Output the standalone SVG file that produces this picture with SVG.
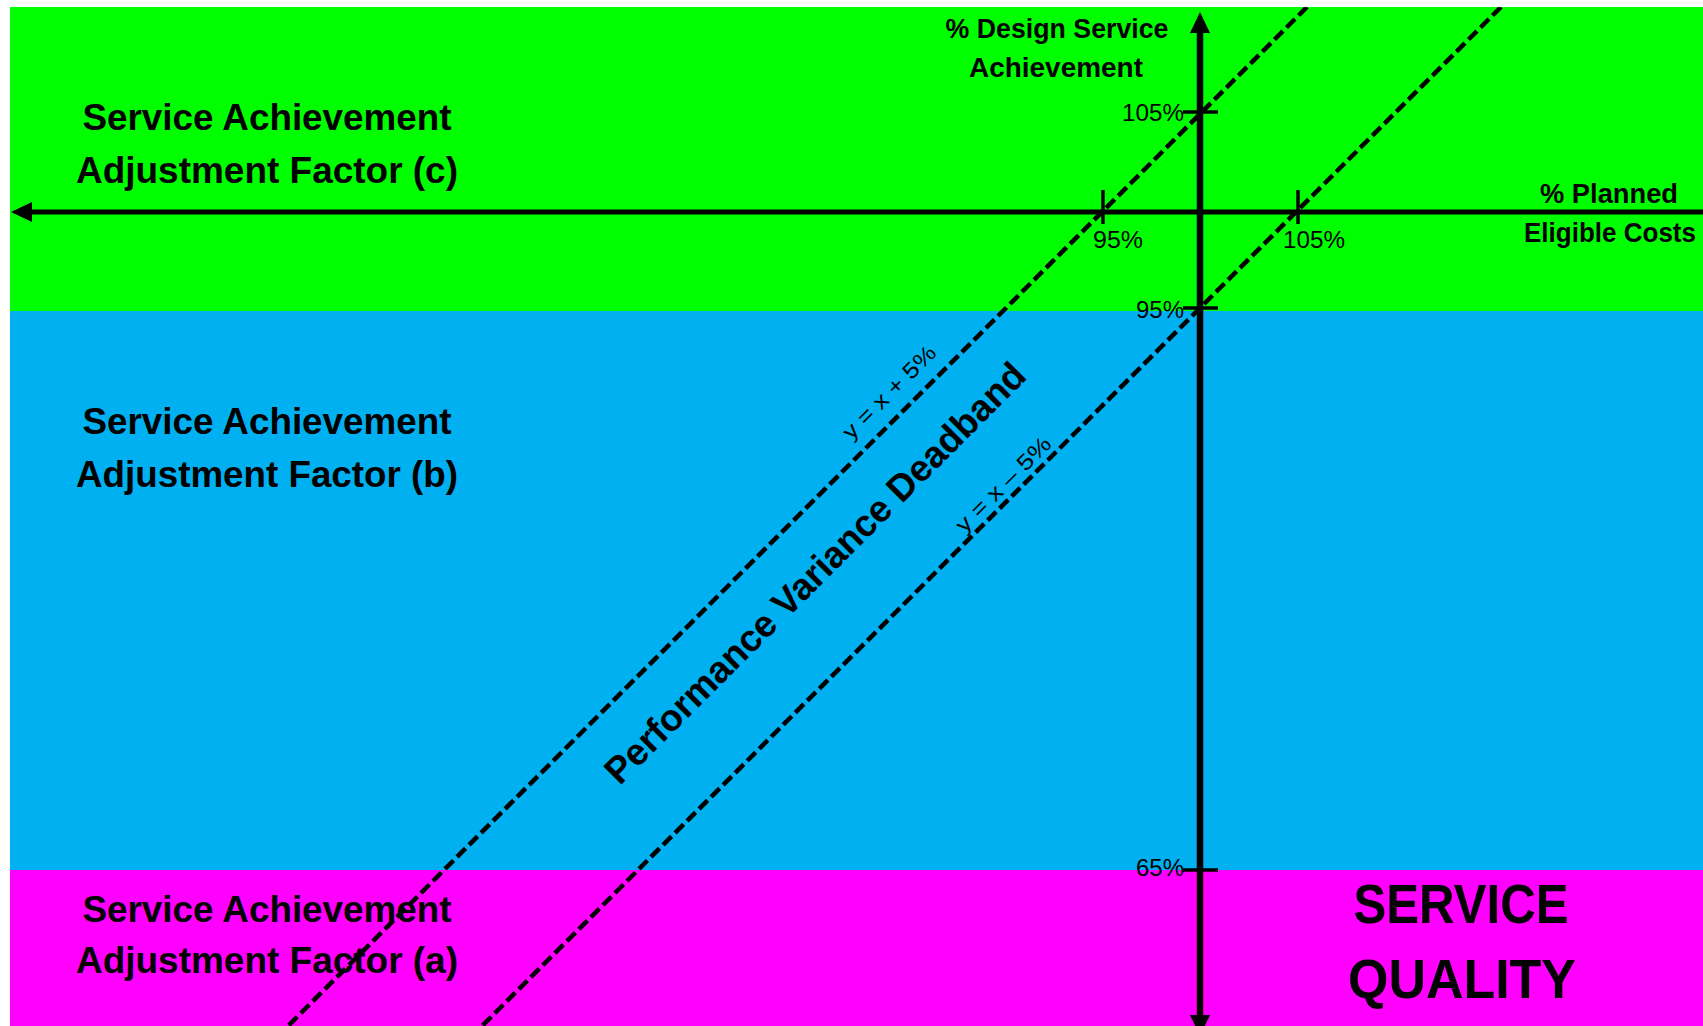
<svg xmlns="http://www.w3.org/2000/svg" width="1703" height="1026" viewBox="0 0 1703 1026">
  <style>
    .lbl { font-family: "Liberation Sans", Arial, sans-serif; font-weight: bold; font-size: 36px; fill: #000; text-anchor: middle; }
    .ax { font-family: "Liberation Sans", Arial, sans-serif; font-weight: bold; font-size: 27px; fill: #000; text-anchor: middle; }
    .tick { font-family: "Liberation Sans", Arial, sans-serif; font-size: 24.5px; fill: #000; }
    .big { font-family: "Liberation Sans", Arial, sans-serif; font-weight: bold; font-size: 56px; fill: #000; text-anchor: middle; }
    .rot { font-family: "Liberation Sans", Arial, sans-serif; font-weight: bold; font-size: 37.5px; fill: #000; text-anchor: middle; }
    .eq { font-family: "Liberation Sans", Arial, sans-serif; font-size: 22px; fill: #000; text-anchor: middle; }
    .axis { stroke: #000; fill: none; }
    .tk { stroke: #000; stroke-width: 3.5; }
    .dash { stroke: #000; stroke-width: 4.5; stroke-dasharray: 12 5; fill: none; }
  </style>
  <defs>
    <marker id="arrow" viewBox="0 0 21 20" refX="6" refY="10" markerWidth="21" markerHeight="20" markerUnits="userSpaceOnUse" orient="auto-start-reverse">
      <path d="M0,0 L21,10 L0,20 z" fill="#000"/>
    </marker>
    <clipPath id="area"><rect x="10" y="7" width="1693" height="1019"/></clipPath>
  </defs>

  <rect width="1703" height="1026" fill="#fff"/>

  <g id="region-c">
    <rect x="10" y="7" width="1693" height="304" fill="#00FF00"/>
    <text class="lbl" x="267" y="130" textLength="369" lengthAdjust="spacingAndGlyphs">Service Achievement</text>
    <text class="lbl" x="267" y="183" textLength="382" lengthAdjust="spacingAndGlyphs">Adjustment Factor (c)</text>
  </g>
  <g id="region-b">
    <rect x="10" y="311" width="1693" height="559" fill="#00B0F0"/>
    <text class="lbl" x="267" y="434" textLength="369" lengthAdjust="spacingAndGlyphs">Service Achievement</text>
    <text class="lbl" x="267" y="487" textLength="382" lengthAdjust="spacingAndGlyphs">Adjustment Factor (b)</text>
  </g>
  <g id="region-a">
    <rect x="10" y="870" width="1693" height="156" fill="#FF00FF"/>
    <text class="lbl" x="267" y="922" textLength="369" lengthAdjust="spacingAndGlyphs">Service Achievement</text>
    <text class="lbl" x="267" y="973" textLength="382" lengthAdjust="spacingAndGlyphs">Adjustment Factor (a)</text>
  </g>

  <g id="service-quality">
    <text class="big" x="1461" y="923" textLength="215" lengthAdjust="spacingAndGlyphs">SERVICE</text>
    <text class="big" x="1462" y="998" textLength="228" lengthAdjust="spacingAndGlyphs">QUALITY</text>
  </g>

  <g id="connectors">
    <g clip-path="url(#area)">
      <line class="dash" x1="1307" y1="7" x2="288" y2="1026"/>
      <line class="dash" x1="1501" y1="7" x2="482" y2="1026"/>
    </g>
    <line class="axis" stroke-width="5" x1="1703" y1="212" x2="26" y2="212" marker-end="url(#arrow)"/>
    <line class="axis" stroke-width="6.5" x1="1200" y1="1021" x2="1200" y2="27" marker-start="url(#arrow)" marker-end="url(#arrow)"/>
    <line class="tk" x1="1183" y1="112" x2="1218" y2="112"/>
    <line class="tk" x1="1183" y1="308" x2="1218" y2="308"/>
    <line class="tk" x1="1183" y1="870" x2="1218" y2="870"/>
    <line class="tk" x1="1103" y1="190" x2="1103" y2="224"/>
    <line class="tk" x1="1298" y1="190" x2="1298" y2="224"/>
  </g>

  <g id="axis-labels">
    <text class="ax" x="1057" y="38" textLength="223" lengthAdjust="spacingAndGlyphs">% Design Service</text>
    <text class="ax" x="1056" y="77" textLength="174" lengthAdjust="spacingAndGlyphs">Achievement</text>
    <text class="ax" x="1609" y="203" textLength="138" lengthAdjust="spacingAndGlyphs">% Planned</text>
    <text class="ax" x="1610" y="242" textLength="172" lengthAdjust="spacingAndGlyphs">Eligible Costs</text>
  </g>

  <g id="tick-labels">
    <text class="tick" x="1184" y="121" text-anchor="end" textLength="62" lengthAdjust="spacingAndGlyphs">105%</text>
    <text class="tick" x="1184" y="318" text-anchor="end" textLength="48" lengthAdjust="spacingAndGlyphs">95%</text>
    <text class="tick" x="1184" y="876" text-anchor="end" textLength="48" lengthAdjust="spacingAndGlyphs">65%</text>
    <text class="tick" x="1093" y="248" textLength="50" lengthAdjust="spacingAndGlyphs">95%</text>
    <text class="tick" x="1283" y="248" textLength="62" lengthAdjust="spacingAndGlyphs">105%</text>
  </g>

  <g id="deadband-labels">
    <text class="rot" transform="translate(824,582) rotate(-45)" x="0" y="0" textLength="578" lengthAdjust="spacingAndGlyphs">Performance Variance Deadband</text>
    <text class="eq" transform="translate(894.5,397.5) rotate(-45)" x="0" y="0" textLength="122" lengthAdjust="spacingAndGlyphs">y = x + 5%</text>
    <text class="eq" transform="translate(1008.5,489.5) rotate(-45)" x="0" y="0" textLength="125" lengthAdjust="spacingAndGlyphs">y = x – 5%</text>
  </g>
</svg>
